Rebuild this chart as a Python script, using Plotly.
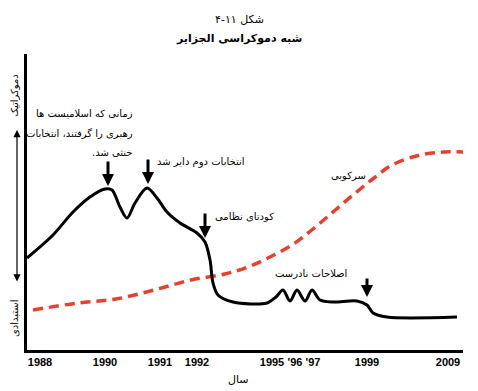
import plotly.graph_objects as go

# ---- data (position units along a schematic time axis, level units on y) ----
democracy_x = [0, 26, 46, 63, 78, 85, 93, 100, 108, 120, 130, 140, 153, 170, 178, 183, 186, 191,
               206, 240, 249, 256, 263, 270, 278, 285, 293, 306, 330, 340, 346, 360, 430]
democracy_y = [92, 115, 138, 153, 161, 160, 143, 132, 147, 162, 152, 138, 127, 117, 108, 90, 67, 55,
               48, 47, 53, 60, 49, 60, 49, 60, 50, 48, 49, 45, 37, 33, 33]

repression_x = [6, 51, 89, 127, 164, 198, 221, 243, 265, 286, 306, 326, 347, 365, 393, 417, 436]
repression_y = [40, 47, 51, 60, 70, 76, 83, 93, 105, 121, 138, 155, 172, 185, 195, 198, 198]

tick_pos = [13, 78, 133, 170, 245, 268, 286, 340, 421]
tick_labels = ["1988", "1990", "1991", "1992", "1995", "'96", "'97", "1999", "2009"]

# event arrows: (x, y) of tip, length in px
event_x = [81, 121, 178, 340]
event_y = [164, 166, 112, 53]
event_len = [26, 26, 26, 20]

FONT = "DejaVu Sans"
RLM = "\u200f"

fig = go.Figure()
fig.add_trace(go.Scatter(x=repression_x, y=repression_y, mode="lines",
                         line=dict(color="#e8402a", width=3.5, dash="10px,6px", shape="spline", smoothing=1.0),
                         hoverinfo="skip", showlegend=False))
fig.add_trace(go.Scatter(x=democracy_x, y=democracy_y, mode="lines",
                         line=dict(color="black", width=3, shape="spline", smoothing=0.9),
                         hoverinfo="skip", showlegend=False))

ann = []
for ex, ey, el in zip(event_x, event_y, event_len):
    ann.append(dict(x=ex, y=ey, xref="x", yref="y", text="", showarrow=True,
                    ax=0, ay=-el, arrowhead=2, arrowsize=0.8, arrowwidth=3, arrowcolor="black"))

def t(text, x, y, xanchor="left", size=10, **kw):
    return dict(x=x, y=y, xref="x", yref="y", text=RLM + text + RLM, showarrow=False, xanchor=xanchor,
                yanchor="middle", font=dict(family=FONT, size=size, color="black"), **kw)

ann += [
    t("زمانی که اسلامیست ها", 108, 237, xanchor="right"),
    t("رهبری را گرفتند، انتخابات", 108, 217, xanchor="right"),
    t("خنثی شد.", 108, 198, xanchor="right"),
    t("انتخابات دوم دایر شد", 128, 188),
    t("کودتای نظامی", 186, 134),
    t("سرکوبی", 302, 175),
    t("اصلاحات نادرست", 246, 77),
]

# left axis labels and double arrow (paper coords from plot area 27..463 x 54..350 px)
def px_to_paper(px, py):
    return (px - 27) / 436.0, (350 - py) / 296.0

lx, ly = px_to_paper(14, 96)
ann.append(dict(x=lx, y=ly, xref="paper", yref="paper", text="دموکراتیک", showarrow=False,
                textangle=-90, font=dict(family=FONT, size=10, color="black"),
                xanchor="center", yanchor="middle"))
lx, ly = px_to_paper(14, 318)
ann.append(dict(x=lx, y=ly, xref="paper", yref="paper", text="استبدادی", showarrow=False,
                textangle=-90, font=dict(family=FONT, size=10, color="black"),
                xanchor="center", yanchor="middle"))
ax_, ay_ = px_to_paper(17, 130)
ann.append(dict(x=ax_, y=ay_, xref="paper", yref="paper", text="", showarrow=True,
                ax=0, ay=153, arrowhead=2, arrowside="end+start", arrowsize=1.2,
                arrowwidth=1.2, arrowcolor="black"))

# x axis title
sx, sy = px_to_paper(238, 379)
ann.append(dict(x=sx, y=sy, xref="paper", yref="paper", text="سال", showarrow=False,
                font=dict(family=FONT, size=11, color="black"), xanchor="center", yanchor="middle"))

# titles
tx, ty = px_to_paper(239, 20)
ann.append(dict(x=tx, y=ty, xref="paper", yref="paper", text=RLM + "شکل ۱۱-۴" + RLM, showarrow=False,
                font=dict(family=FONT, size=11, color="black"), xanchor="center", yanchor="middle"))
tx, ty = px_to_paper(239, 38)
ann.append(dict(x=tx, y=ty, xref="paper", yref="paper", text="<b>شبه دموکراسی الجزایر</b>", showarrow=False,
                font=dict(family=FONT, size=11, color="black"), xanchor="center", yanchor="middle"))

# page is offset by the browser's default 8px body margin, so margins compensate
fig.update_layout(
    width=478, height=391,
    margin=dict(l=19, r=23, t=46, b=49),
    paper_bgcolor="white", plot_bgcolor="white",
    annotations=ann,
    xaxis=dict(range=[0, 436], showgrid=False, zeroline=False, showline=True, linecolor="black",
               linewidth=2.5, tickmode="array", tickvals=tick_pos, ticktext=tick_labels, ticks="",
               tickangle=0, automargin=False,
               tickfont=dict(family="Liberation Sans", size=11, color="black", weight="bold"),
               fixedrange=True),
    yaxis=dict(range=[0, 296], showgrid=False, zeroline=False, showline=True, linecolor="black",
               linewidth=2.5, showticklabels=False, ticks="", automargin=False, fixedrange=True),
)

fig.write_html("out.html")
